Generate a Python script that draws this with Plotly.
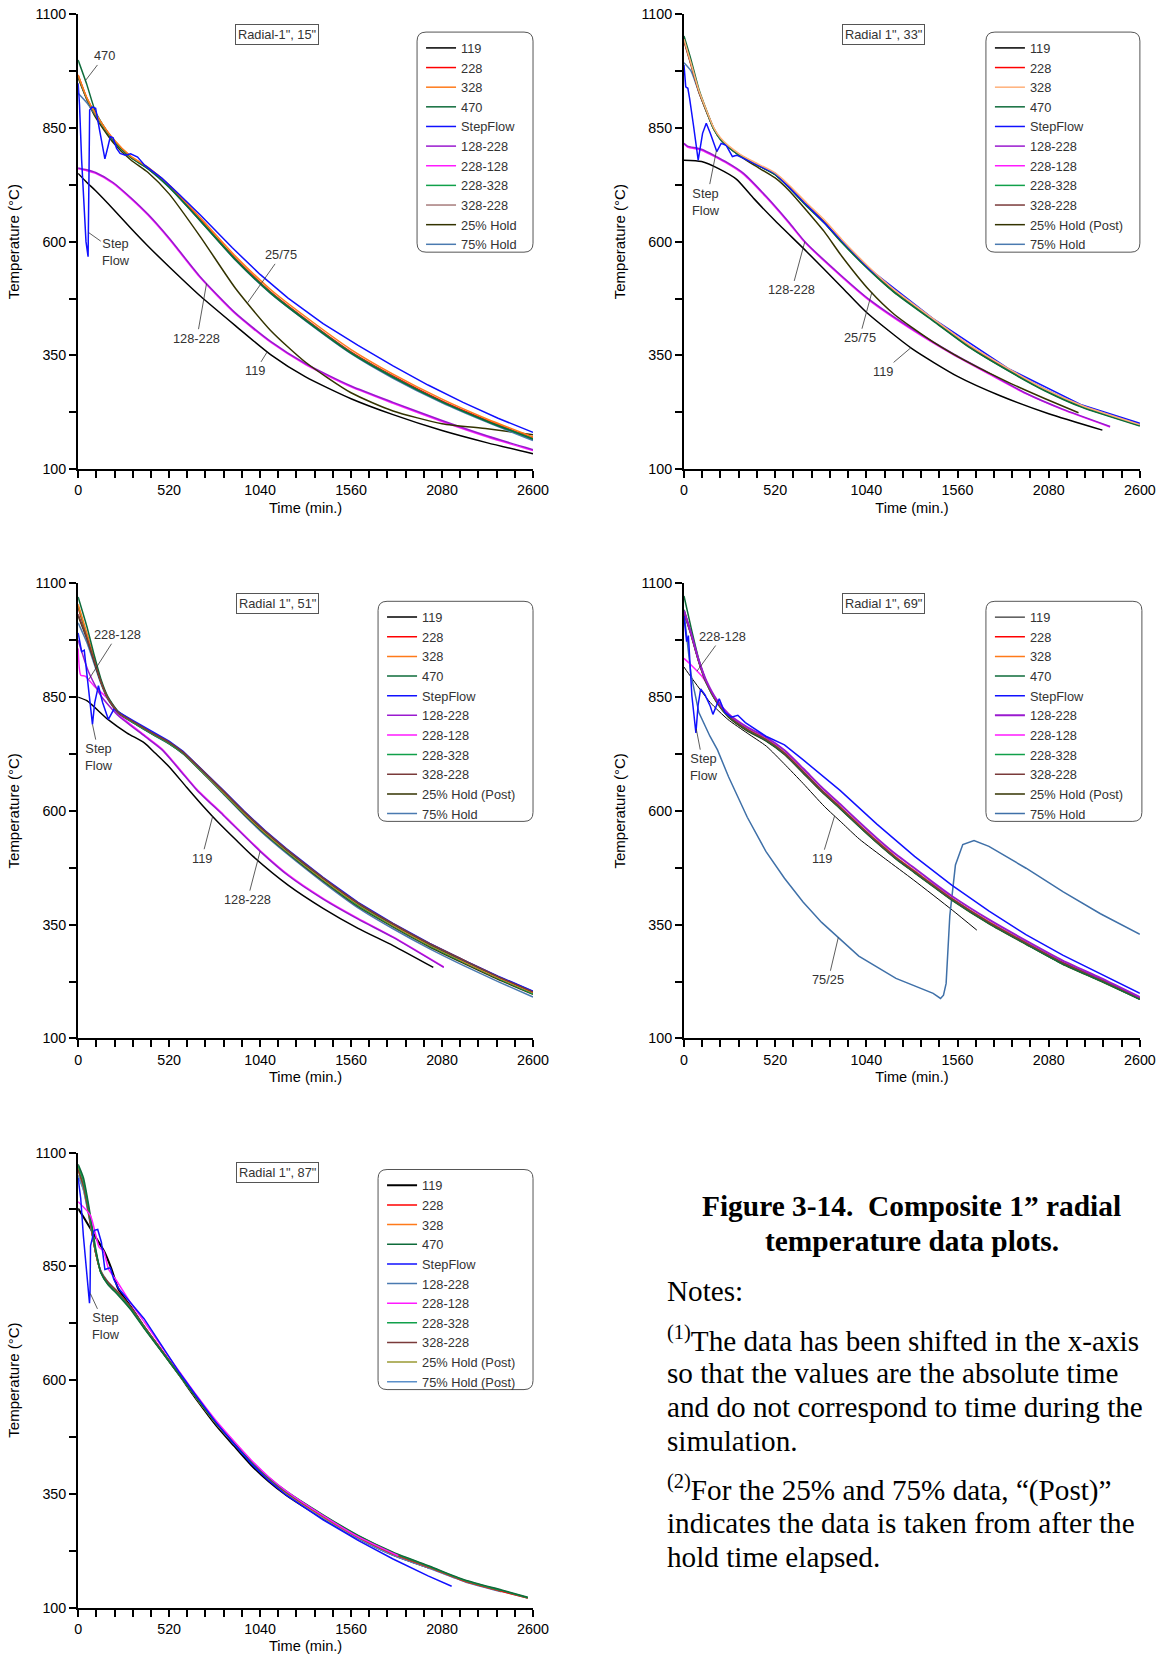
import plotly.graph_objects as go

W, H = 1162, 1661
# measured mapping between figure pixels and the photographed window
SX, OX, SY, OY, BODY = 0.983, -5.0, 0.99, 0.0, 8.0
FONT = "Liberation Sans, Arial, sans-serif"
SERIF = "Liberation Serif, Times New Roman, serif"

# ---------------- Plot 1 : Radial-1", 15" ----------------
P1_T = [0, 50, 100, 200, 300, 400, 520, 700, 900, 1100, 1300, 1560, 1800, 2080, 2340, 2600]
P1_119 = [750, 730, 712, 672, 630, 590, 545, 480, 415, 352, 303, 255, 220, 185, 158, 134]
P1_128_228 = [762, 758, 752, 730, 697, 660, 608, 522, 443, 381, 332, 283, 247, 207, 173, 143]
P1_228_128 = [760, 756, 750, 728, 695, 658, 606, 520, 441, 379, 330, 281, 245, 205, 171, 141]
P1_228 = [966, 915, 880, 825, 787, 762, 722, 648, 563, 490, 430, 358, 305, 250, 207, 168]
P1_328 = [966, 916, 881, 826, 788, 763, 725, 652, 568, 495, 435, 363, 309, 254, 210, 171]
P1_470 = [999, 945, 885, 822, 785, 760, 720, 645, 560, 487, 427, 355, 302, 248, 205, 166]
P1_228_328 = [964, 914, 879, 824, 786, 761, 720, 646, 561, 488, 428, 356, 303, 248, 205, 167]
P1_328_228 = [962, 912, 878, 824, 786, 761, 721, 647, 562, 489, 429, 357, 304, 249, 206, 167]
P1_H25 = [960, 912, 873, 818, 780, 752, 705, 610, 497, 405, 335, 268, 228, 200, 189, 176]
P1_H75 = [926, 905, 878, 823, 786, 760, 719, 645, 559, 486, 426, 354, 300, 246, 203, 163]
P1_SF_T = [0, 8, 20, 45, 57, 62, 66, 80, 100, 125, 153, 170, 184, 200, 220, 240, 270, 300, 340, 380,
           480, 580, 700, 880, 1040, 1200, 1400, 1600, 1800, 2000, 2200, 2400, 2600]
P1_SF = [948, 900, 780, 600, 567, 700, 889, 896, 893, 840, 782, 808, 831, 828, 805, 794, 790, 793, 786, 768,
         739, 703, 658, 587, 528, 476, 420, 372, 327, 285, 247, 212, 181]

# ---------------- Plot 2 : Radial 1", 33" ----------------
P2_T = [0, 40, 85, 130, 170, 210, 250, 320, 400, 520, 600, 700, 800, 900, 1060, 1200, 1420, 1630, 1850, 2060, 2270, 2600]
P2_228 = [1043, 990, 930, 885, 848, 825, 810, 790, 773, 748, 720, 680, 643, 600, 538, 490, 428, 369, 318, 274, 238, 197]
P2_328 = [1045, 992, 932, 887, 850, 827, 812, 792, 775, 751, 724, 685, 648, 605, 542, 494, 431, 372, 321, 276, 240, 198]
P2_470 = [1052, 1000, 935, 887, 849, 825, 809, 789, 772, 747, 718, 678, 641, 598, 536, 488, 426, 367, 316, 272, 236, 195]
P2_228_328 = [1045, 992, 931, 885, 847, 824, 809, 789, 772, 747, 719, 679, 642, 599, 537, 489, 427, 368, 317, 273, 237, 196]
P2_328_228 = [1040, 988, 929, 884, 847, 824, 809, 790, 773, 748, 720, 681, 643, 600, 538, 490, 428, 369, 318, 274, 238, 197]
P2_H75 = [993, 975, 928, 884, 847, 823, 808, 789, 772, 748, 720, 680, 643, 600, 538, 490, 429, 371, 320, 276, 240, 199]
P2_119_T = [0, 100, 200, 300, 400, 520, 700, 900, 1040, 1300, 1560, 1800, 2080, 2386]
P2_119 = [779, 776, 760, 737, 694, 646, 578, 500, 445, 365, 304, 262, 222, 186]
P2_128_T = [0, 20, 100, 250, 340, 470, 600, 690, 890, 1060, 1315, 1530, 1740, 1950, 2160, 2430]
P2_128_228 = [816, 810, 803, 773, 750, 699, 642, 600, 528, 472, 405, 355, 311, 267, 232, 194]
P2_228_128 = [815, 808, 801, 771, 748, 697, 640, 598, 526, 470, 403, 353, 309, 266, 231, 193]
P2_H25_T = [250, 320, 400, 520, 600, 700, 800, 900, 1060, 1200, 1420, 1630, 1850, 2060, 2250]
P2_H25 = [808, 788, 768, 740, 712, 668, 622, 568, 492, 440, 380, 333, 291, 255, 224]
P2_SF_T = [0, 10, 22, 32, 55, 81, 106, 127, 150, 187, 212, 240, 276, 300, 361, 520, 700, 900, 1060, 1420, 1850, 2270, 2600]
P2_SF = [988, 940, 937, 915, 853, 779, 838, 860, 838, 798, 816, 812, 787, 790, 779, 750, 681, 601, 539, 431, 321, 241, 201]

# ---------------- Plot 3 : Radial 1", 51" ----------------
P3_T = [0, 50, 90, 130, 170, 230, 320, 420, 520, 600, 700, 830, 950, 1070, 1190, 1400, 1600, 1800, 2010, 2210, 2400, 2600]
P3_228 = [1046, 985, 935, 885, 848, 816, 794, 771, 749, 727, 690, 640, 594, 551, 512, 449, 394, 348, 304, 267, 233, 200]
P3_328 = [1054, 990, 938, 886, 849, 817, 795, 772, 750, 728, 691, 641, 595, 552, 513, 450, 395, 349, 305, 268, 234, 201]
P3_470 = [1070, 1005, 945, 890, 851, 818, 795, 772, 750, 728, 692, 643, 597, 554, 515, 452, 397, 351, 307, 270, 236, 203]
P3_228_328 = [1050, 987, 936, 885, 848, 816, 793, 770, 748, 726, 689, 639, 593, 550, 511, 448, 392, 347, 303, 266, 232, 198]
P3_328_228 = [1032, 980, 933, 884, 848, 816, 795, 772, 751, 729, 693, 644, 598, 555, 516, 453, 398, 352, 308, 271, 236, 202]
P3_H25 = [1028, 978, 930, 883, 847, 815, 793, 770, 748, 726, 689, 639, 592, 549, 510, 446, 390, 345, 301, 264, 230, 197]
P3_H75 = [1013, 970, 925, 880, 845, 814, 792, 769, 747, 725, 688, 637, 590, 546, 507, 443, 387, 341, 297, 259, 225, 191]
P3_SF_T = [0, 20, 35, 50, 82, 95, 116, 140, 173, 204, 234, 320, 420, 520, 600, 700, 830, 950, 1070, 1190,
           1400, 1600, 1800, 2010, 2210, 2400, 2600]
P3_SF = [991, 950, 953, 905, 790, 838, 875, 838, 801, 823, 816, 797, 775, 753, 731, 694, 645, 599, 556, 517,
         454, 399, 353, 309, 271, 237, 204]
P3_119_T = [0, 50, 170, 280, 380, 440, 520, 620, 720, 800, 900, 1000, 1200, 1400, 1600, 1800, 2030]
P3_119 = [850, 842, 801, 771, 749, 727, 697, 652, 608, 575, 537, 500, 437, 386, 342, 304, 256]
P3_128_T = [0, 60, 130, 230, 380, 480, 580, 680, 830, 1040, 1200, 1400, 1600, 1800, 2090]
P3_128_228 = [975, 905, 853, 809, 764, 734, 690, 645, 590, 511, 458, 406, 362, 322, 256]
P3_228_128_T = [0, 15, 40, 90, 170, 230, 380, 480, 580, 680, 830, 1040, 1200, 1400, 1600, 1800, 2090]
P3_228_128 = [957, 898, 896, 875, 846, 812, 766, 736, 692, 647, 592, 513, 460, 408, 364, 323, 257]

# ---------------- Plot 4 : Radial 1", 69" ----------------
P4_T = [0, 42, 85, 127, 190, 254, 360, 467, 573, 680, 785, 890, 1000, 1100, 1210, 1315, 1420, 1527, 1740, 1950, 2160, 2375, 2600]
P4_228 = [1039, 987, 928, 883, 838, 809, 779, 757, 727, 686, 645, 608, 568, 533, 497, 467, 437, 407, 355, 310, 266, 229, 188]
P4_328 = [1040, 988, 929, 884, 839, 810, 780, 758, 728, 687, 646, 609, 569, 534, 498, 468, 438, 408, 356, 311, 267, 230, 189]
P4_470 = [1072, 1000, 932, 884, 838, 808, 778, 755, 725, 684, 643, 606, 566, 531, 495, 465, 435, 405, 353, 308, 264, 227, 186]
P4_228_328 = [1042, 988, 928, 882, 837, 808, 778, 756, 726, 685, 644, 606, 566, 531, 495, 465, 435, 405, 353, 308, 264, 227, 186]
P4_328_228 = [1037, 986, 928, 883, 838, 809, 779, 757, 727, 686, 645, 608, 568, 533, 497, 467, 437, 407, 355, 310, 267, 230, 189]
P4_128_228 = [1040, 988, 930, 886, 842, 813, 784, 762, 733, 693, 652, 615, 575, 540, 504, 474, 443, 413, 361, 315, 271, 233, 191]
P4_H25 = [1035, 984, 926, 881, 836, 806, 776, 754, 724, 683, 642, 605, 565, 530, 494, 464, 434, 404, 352, 307, 263, 226, 186]
P4_228_128_T = [0, 42, 106, 170, 210, 254, 360, 467, 573, 680, 785, 890, 1000, 1100, 1210, 1315, 1420, 1527, 1740, 1950, 2160, 2375, 2600]
P4_228_128 = [935, 920, 894, 853, 832, 810, 780, 758, 728, 687, 646, 609, 569, 534, 498, 468, 438, 408, 356, 311, 267, 230, 189]
P4_119_T = [0, 40, 150, 250, 360, 470, 570, 680, 800, 900, 1000, 1150, 1310, 1530, 1670]
P4_119 = [916, 894, 838, 801, 771, 742, 704, 660, 610, 574, 538, 494, 448, 382, 338]
P4_SF_T = [0, 15, 25, 45, 68, 80, 95, 120, 150, 165, 201, 233, 270, 307, 350, 467, 573, 680, 890, 1100,
           1315, 1527, 1740, 1950, 2160, 2375, 2600]
P4_SF = [1028, 972, 985, 853, 771, 831, 868, 855, 830, 812, 846, 816, 806, 810, 794, 764, 745, 712, 645, 571,
         500, 437, 380, 328, 283, 242, 199]
P4_H75_T = [0, 20, 40, 85, 148, 191, 254, 361, 467, 573, 679, 785, 880, 997, 1209, 1421, 1463, 1480, 1495, 1516,
            1548, 1590, 1654, 1739, 1951, 2163, 2375, 2600]
P4_H75 = [1035, 960, 900, 816, 764, 734, 675, 586, 511, 452, 400, 355, 322, 281, 232, 199, 188, 195, 221, 370,
          481, 526, 535, 522, 474, 422, 374, 329]

# ---------------- Plot 5 : Radial 1", 87" ----------------
P5_T = [0, 30, 60, 100, 130, 170, 230, 300, 380, 480, 580, 680, 790, 890, 990, 1090, 1190, 1400, 1600, 1800, 2010, 2210, 2420, 2570]
P5_228 = [1066, 1030, 970, 880, 838, 815, 792, 760, 716, 664, 612, 560, 505, 462, 421, 385, 353, 300, 255, 218, 188, 158, 136, 121]
P5_470 = [1074, 1045, 985, 890, 836, 810, 786, 755, 712, 661, 610, 559, 505, 463, 422, 386, 356, 304, 259, 222, 191, 161, 139, 123]
P5_228_328 = [1070, 1038, 978, 885, 836, 811, 788, 757, 714, 662, 611, 559, 505, 462, 421, 385, 355, 303, 258, 221, 190, 160, 138, 122]
P5_H25 = [1060, 1025, 968, 880, 837, 813, 790, 758, 715, 663, 611, 559, 505, 462, 420, 384, 353, 301, 256, 219, 189, 159, 137, 122]
P5_H75 = [1048, 1018, 962, 880, 838, 814, 790, 758, 715, 663, 611, 559, 504, 460, 418, 381, 350, 298, 253, 216, 187, 158, 136, 121]
P5_328 = [1066, 1032, 972, 882, 838, 814, 790, 758, 714, 662, 610, 558, 504, 461, 419, 383, 352, 300, 256, 219, 189, 159, 137]
P5_328_228 = [1062, 1028, 968, 880, 838, 815, 792, 760, 716, 664, 612, 560, 505, 462, 420, 384, 353, 301, 256, 219, 189, 159, 137]
P5_128_228 = [1050, 1020, 965, 882, 840, 816, 792, 760, 716, 664, 612, 560, 504, 460, 418, 381, 350, 297, 252, 215, 186, 157, 135]
P5_119_T = [0, 30, 90, 150, 190, 230, 300, 380, 480, 580, 680, 790, 890, 990, 1090, 1190, 1400, 1600, 1800, 2010]
P5_119 = [977, 959, 920, 882, 845, 800, 762, 716, 663, 610, 556, 500, 456, 413, 377, 347, 296, 252, 216, 187]
P5_SF_T = [0, 15, 30, 50, 65, 68, 71, 92, 112, 133, 153, 184, 204, 234, 296, 377, 479, 580, 680, 790,
           890, 990, 1090, 1190, 1400, 1600, 1800, 2000, 2135]
P5_SF = [1044, 999, 917, 830, 769, 791, 895, 929, 931, 903, 843, 847, 821, 800, 772, 735, 675, 616, 563, 506,
         460, 416, 379, 347, 293, 248, 207, 170, 147]
P5_228_128_T = [0, 70, 120, 145, 175, 215, 300, 380, 480, 580, 680, 790, 890, 990, 1090, 1190, 1400, 1600, 1830]
P5_228_128 = [992, 962, 892, 884, 843, 821, 770, 727, 672, 618, 565, 510, 466, 424, 387, 356, 302, 256, 214]

# axis ticks / labels
X_TICK0, X_DTICK, X_MINOR = 0, 520, 104
Y_TICK0, Y_DTICK, Y_MINOR = 100, 250, 125
PANEL_TITLES = ['Radial-1", 15"', 'Radial 1", 33"', 'Radial 1", 51"', 'Radial 1", 69"', 'Radial 1", 87"']

# colours
C = {
    "119": "#000000", "228": "#FF0000", "328": "#FF7A1A", "470": "#0E6B3A",
    "SF": "#1010FF", "128-228": "#9A1ACF", "228-128": "#FF1AFF", "228-328": "#10A04A",
    "328-228": "#7A3A3A", "H25": "#333300", "H75": "#4A7AB0",
}
RANK = {"119": 1, "228": 2, "328": 3, "470": 4, "SF": 5, "128-228": 6, "228-128": 7,
        "228-328": 8, "328-228": 9, "H25": 10, "H75": 11}

# layout geometry in reference pixels
COLS = [(77, 532), (683, 1139)]
ROWS = [(14, 469), (583, 1038), (1152, 1607)]
PANELS = [(0, 0), (0, 1), (1, 0), (1, 1), (2, 0)]
LBOX = [(416, 32, 532, 252), (985, 32, 1139, 252), (377, 601, 532, 821), (985, 601, 1141, 821), (377, 1169, 532, 1389)]

fig = go.Figure()


def add(p, key, name, t, v, color=None, width=1.5, shape="spline"):
    sfx = "" if p == 1 else str(p)
    line = dict(color=color or C[key], width=width, shape=shape)
    if shape == "spline":
        line["smoothing"] = 0.6
    fig.add_trace(go.Scatter(
        x=t, y=v, mode="lines", name=name, line=line,
        xaxis="x" + sfx, yaxis="y" + sfx, legend="legend" + sfx,
        legendrank=RANK[key], hoverinfo="skip"))


# Plot 1
add(1, "119", "119", P1_T, P1_119)
add(1, "228-128", "228-128", P1_T, P1_228_128)
add(1, "128-228", "128-228", P1_T, P1_128_228)
add(1, "H25", "25% Hold", P1_T, P1_H25)
add(1, "H75", "75% Hold", P1_T, P1_H75)
add(1, "328-228", "328-228", P1_T, P1_328_228, width=1)
add(1, "228", "228", P1_T, P1_228)
add(1, "228-328", "228-328", P1_T, P1_228_328)
add(1, "470", "470", P1_T, P1_470)
add(1, "328", "328", P1_T, P1_328)
add(1, "SF", "StepFlow", P1_SF_T, P1_SF, shape="linear")

# Plot 2
add(2, "119", "119", P2_119_T, P2_119)
add(2, "228-128", "228-128", P2_128_T, P2_228_128)
add(2, "128-228", "128-228", P2_128_T, P2_128_228)
add(2, "H25", "25% Hold (Post)", P2_H25_T, P2_H25)
add(2, "H75", "75% Hold", P2_T, P2_H75)
add(2, "328-228", "328-228", P2_T, P2_328_228)
add(2, "228", "228", P2_T, P2_228)
add(2, "228-328", "228-328", P2_T, P2_228_328)
add(2, "470", "470", P2_T, P2_470)
add(2, "SF", "StepFlow", P2_SF_T, P2_SF, shape="linear")
add(2, "328", "328", P2_T, P2_328, color="#FFB07A")

# Plot 3
add(3, "119", "119", P3_119_T, P3_119)
add(3, "228-128", "228-128", P3_228_128_T, P3_228_128)
add(3, "128-228", "128-228", P3_128_T, P3_128_228)
add(3, "H75", "75% Hold", P3_T, P3_H75)
add(3, "H25", "25% Hold (Post)", P3_T, P3_H25)
add(3, "228", "228", P3_T, P3_228)
add(3, "228-328", "228-328", P3_T, P3_228_328)
add(3, "328", "328", P3_T, P3_328)
add(3, "470", "470", P3_T, P3_470)
add(3, "SF", "StepFlow", P3_SF_T, P3_SF, shape="linear")
add(3, "328-228", "328-228", P3_T, P3_328_228)

# Plot 4
add(4, "119", "119", P4_119_T, P4_119, width=1)
add(4, "H75", "75% Hold", P4_H75_T, P4_H75, color="#3F70A8", shape="linear")
add(4, "228-128", "228-128", P4_228_128_T, P4_228_128)
add(4, "H25", "25% Hold (Post)", P4_T, P4_H25)
add(4, "228", "228", P4_T, P4_228)
add(4, "328", "328", P4_T, P4_328)
add(4, "228-328", "228-328", P4_T, P4_228_328)
add(4, "470", "470", P4_T, P4_470)
add(4, "328-228", "328-228", P4_T, P4_328_228)
add(4, "128-228", "128-228", P4_T, P4_128_228, width=2)
add(4, "SF", "StepFlow", P4_SF_T, P4_SF, shape="linear")

# Plot 5
add(5, "119", "119", P5_119_T, P5_119, width=2)
add(5, "128-228", "128-228", P5_T[:len(P5_128_228)], P5_128_228, color="#4A7AB0")
add(5, "H75", "75% Hold (Post)", P5_T, P5_H75, color="#5B8FC9")
add(5, "H25", "25% Hold (Post)", P5_T, P5_H25, color="#9A9A33")
add(5, "228", "228", P5_T, P5_228)
add(5, "328", "328", P5_T[:len(P5_328)], P5_328)
add(5, "328-228", "328-228", P5_T[:len(P5_328_228)], P5_328_228)
add(5, "228-328", "228-328", P5_T, P5_228_328)
add(5, "470", "470", P5_T, P5_470)
add(5, "228-128", "228-128", P5_228_128_T, P5_228_128)
add(5, "SF", "StepFlow", P5_SF_T, P5_SF, shape="linear")

# callouts: (panel, text, text_x, text_y, point_x, point_y)
CALLOUTS = [
    (1, "470", 150, 1008, 42, 954),
    (1, "Step<br>Flow", 218, 577, 60, 620),
    (1, "25/75", 1162, 571, 969, 466),
    (1, "128-228", 679, 388, 734, 508),
    (1, "119", 1013, 316, 1081, 358),
    (2, "Step<br>Flow", 127, 688, 185, 800),
    (2, "128-228", 615, 494, 689, 600),
    (2, "25/75", 1001, 389, 1071, 488),
    (2, "119", 1135, 315, 1294, 367),
    (3, "228-128", 224, 987, 61, 889),
    (3, "Step<br>Flow", 122, 718, 82, 790),
    (3, "119", 707, 496, 769, 588),
    (3, "128-228", 968, 405, 1040, 511),
    (4, "228-128", 218, 983, 74, 907),
    (4, "Step<br>Flow", 112, 696, 70, 780),
    (4, "119", 785, 495, 859, 589),
    (4, "75/25", 823, 229, 880, 322),
    (5, "Step<br>Flow", 157, 718, 70, 790),
]

layout = dict(
    width=W, height=H, margin=dict(l=0, r=0, t=0, b=0),
    paper_bgcolor="white", plot_bgcolor="white", hovermode=False,
    font=dict(family=FONT, color="black"), showlegend=True,
)

annotations = []
shapes = []


def px2x(px):
    return ((px - OX) / SX - BODY) / W


def px2y(py):
    return 1 - ((py - OY) / SY - BODY) / H


def rounded(x0, y0, x1, y1, r):
    X, Y = px2x, px2y
    return (f"M{X(x0 + r)},{Y(y0)} L{X(x1 - r)},{Y(y0)} Q{X(x1)},{Y(y0)} {X(x1)},{Y(y0 + r)} "
            f"L{X(x1)},{Y(y1 - r)} Q{X(x1)},{Y(y1)} {X(x1 - r)},{Y(y1)} "
            f"L{X(x0 + r)},{Y(y1)} Q{X(x0)},{Y(y1)} {X(x0)},{Y(y1 - r)} "
            f"L{X(x0)},{Y(y0 + r)} Q{X(x0)},{Y(y0)} {X(x0 + r)},{Y(y0)} Z")


for i, (r, c) in enumerate(PANELS):
    p = i + 1
    sfx = "" if p == 1 else str(p)
    x0, x1 = COLS[c]
    y0, y1 = ROWS[r]
    common = dict(showline=True, linecolor="black", linewidth=2, ticks="outside", ticklen=7,
                  tickwidth=2, tickcolor="black", showgrid=False, zeroline=False,
                  tickfont=dict(size=14.3, color="black", family=FONT))
    layout["xaxis" + sfx] = dict(
        common, domain=[px2x(x0), px2x(x1)], range=[0, 2600], anchor="y" + sfx,
        tickmode="linear", tick0=X_TICK0, dtick=X_DTICK,
        minor=dict(tickmode="linear", tick0=X_TICK0, dtick=X_MINOR, ticks="outside", ticklen=7,
                   tickwidth=2, tickcolor="black", showgrid=False),
        title=dict(text="Time (min.)", font=dict(size=14.6, family=FONT, color="black"), standoff=5))
    layout["yaxis" + sfx] = dict(
        common, domain=[px2y(y1), px2y(y0)], range=[100, 1100], anchor="x" + sfx,
        tickmode="linear", tick0=Y_TICK0, dtick=Y_DTICK,
        minor=dict(tickmode="linear", tick0=Y_TICK0, dtick=Y_MINOR, ticks="outside", ticklen=7,
                   tickwidth=2, tickcolor="black", showgrid=False),
        title=dict(text="Temperature (°C)", font=dict(size=15, family=FONT, color="black"), standoff=12))
    bx0, by0, bx1, by1 = LBOX[i]
    layout["legend" + sfx] = dict(
        x=px2x(bx0 + 4), y=px2y(by0 + 1), xref="paper", yref="paper", xanchor="left", yanchor="top",
        bgcolor="rgba(0,0,0,0)", borderwidth=0, font=dict(size=12.8, color="#333333", family=FONT),
        tracegroupgap=0, traceorder="normal")
    shapes.append(dict(type="path", xref="paper", yref="paper", path=rounded(bx0, by0, bx1, by1, 9),
                       line=dict(color="#555555", width=1), fillcolor="white", layer="above"))
    annotations.append(dict(
        x=1137, y=1055, xref="x" + sfx, yref="y" + sfx, text=PANEL_TITLES[i], showarrow=False,
        font=dict(size=12.8, color="#333333", family=FONT), bordercolor="#555555", borderwidth=1,
        borderpad=2, bgcolor="white"))

for (p, txt, tx, ty, ex, ey) in CALLOUTS:
    sfx = "" if p == 1 else str(p)
    annotations.append(dict(
        x=ex, y=ey, ax=tx, ay=ty, xref="x" + sfx, yref="y" + sfx, axref="x" + sfx, ayref="y" + sfx,
        text=txt, showarrow=True, arrowhead=0, arrowwidth=0.8, arrowcolor="#333333", standoff=0,
        font=dict(size=12.8, color="#333333", family=FONT)))

# caption text block
CAPTION_TITLE = ["Figure 3-14.\u00a0 Composite 1\u201d radial", "temperature data plots."]
NOTES = [
    "Notes:",
    "<sup>(1)</sup>The data has been shifted in the x-axis",
    "so that the values are the absolute time",
    "and do not correspond to time during the",
    "simulation.",
    "<sup>(2)</sup>For the 25% and 75% data, \u201c(Post)\u201d",
    "indicates the data is taken from after the",
    "hold time elapsed.",
]
TITLE_Y = [1205, 1240]
NOTES_Y = [1290, 1338, 1372, 1406, 1440, 1488, 1522, 1556]

for txt, yy in zip(CAPTION_TITLE, TITLE_Y):
    annotations.append(dict(x=px2x(911), y=px2y(yy), xref="paper", yref="paper", xanchor="center",
                            yanchor="middle", text="<b>" + txt + "</b>", showarrow=False,
                            font=dict(size=29.4, family=SERIF, color="black")))
for txt, yy in zip(NOTES, NOTES_Y):
    annotations.append(dict(x=px2x(664), y=px2y(yy), xref="paper", yref="paper", xanchor="left",
                            yanchor="middle", text=txt, showarrow=False,
                            font=dict(size=29.2, family=SERIF, color="black")))

layout["annotations"] = annotations
layout["shapes"] = shapes
fig.update_layout(**layout)
fig.write_html("out.html")
